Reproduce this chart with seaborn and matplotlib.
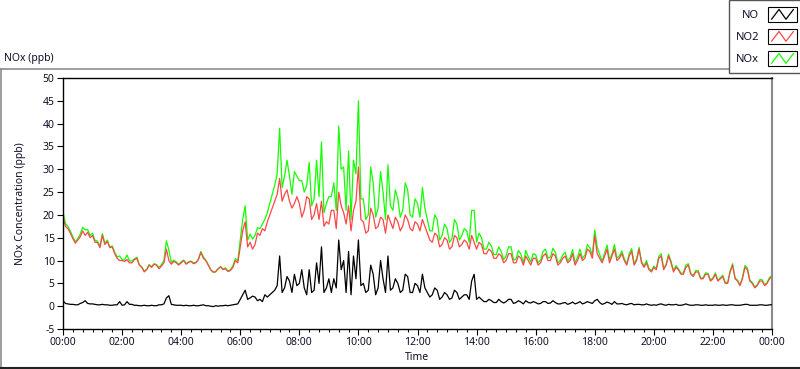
import numpy as np
import pandas as pd
import matplotlib
matplotlib.use("Agg")
import matplotlib.pyplot as plt
import seaborn as sns
from matplotlib.legend_handler import HandlerBase
from matplotlib.lines import Line2D
from matplotlib.patches import Rectangle

# ---------------- data (5-minute samples, ppb) ----------------
sample_minutes = np.arange(0, 24 * 60 + 1, 5)

no_ppb = [
    1.2, 0.6, 0.5, 0.4, 0.4, 0.3, 0.3, 0.6, 0.8, 1.2, 0.6, 0.5,
    0.5, 0.4, 0.3, 0.3, 0.4, 0.3, 0.3, 0.2, 0.2, 0.3, 0.3, 1.0,
    0.2, 0.3, 1.0, 0.4, 0.4, 0.2, 0.2, 0.1, 0.1, 0.2, 0.1, 0.1,
    0.2, 0.1, 0.1, 0.3, 0.3, 0.5, 1.8, 2.3, 0.4, 0.3, 0.2, 0.2,
    0.2, 0.1, 0.2, 0.1, 0.1, 0.2, 0.1, 0.1, 0.2, 0.3, 0.1, 0.1,
    0.0, -0.1, 0.1, 0.0, 0.1, 0.1, 0.2, 0.1, 0.2, 0.3, 0.4, 0.5,
    1.5, 2.5, 3.5, 1.5, 1.8, 2.2, 2.0, 1.2, 1.5, 1.0, 2.5, 2.0,
    2.5, 3.0, 3.5, 4.5, 11.0, 3.0, 4.0, 6.5, 5.5, 3.0, 7.0, 4.5,
    5.0, 8.0, 4.0, 2.5, 8.0, 3.0, 3.5, 9.5, 5.0, 13.0, 3.0, 4.0,
    6.0, 3.0, 6.0, 4.0, 14.5, 8.0, 10.0, 3.0, 12.0, 2.5, 11.0, 6.0,
    14.5, 4.5, 5.0, 3.0, 3.5, 9.0, 7.0, 2.5, 4.0, 10.0, 6.0, 3.0,
    11.0, 3.5, 4.0, 6.0, 5.0, 3.0, 3.5, 7.0, 6.5, 3.0, 3.0, 5.0,
    4.5, 3.0, 7.0, 4.0, 3.0, 2.0, 2.5, 4.0, 3.5, 1.5, 2.0, 3.0,
    2.5, 1.5, 1.8, 3.5, 3.0, 1.5, 2.0, 2.5, 2.5, 1.5, 5.5, 7.0,
    1.5, 2.0, 1.5, 1.0, 1.0, 1.5, 1.2, 0.8, 0.8, 1.5, 1.0, 0.7,
    1.0, 1.5, 1.5, 0.6, 0.8, 1.2, 0.9, 0.5, 1.2, 0.8, 0.7, 1.0,
    0.8, 0.5, 0.6, 1.0, 1.0, 0.6, 0.7, 1.2, 0.8, 0.5, 0.5, 0.7,
    0.8, 0.4, 0.6, 0.9, 0.5, 0.7, 1.0, 0.5, 0.7, 1.0, 0.8, 0.6,
    1.2, 1.5, 0.8, 0.4, 0.6, 0.9, 0.7, 0.4, 1.0, 0.5, 0.5, 0.6,
    0.4, 0.3, 0.5, 0.6, 0.3, 0.4, 0.4, 0.3, 0.3, 0.5, 0.3, 0.2,
    0.3, 0.2, 0.4, 0.5, 0.3, 0.2, 0.4, 0.3, 0.3, 0.4, 0.2, 0.2,
    0.3, 0.5, 0.3, 0.2, 0.2, 0.3, 0.3, 0.2, 0.2, 0.3, 0.2, 0.2,
    0.2, 0.3, 0.2, 0.2, 0.3, 0.2, 0.2, 0.3, 0.3, 0.2, 0.2, 0.2,
    0.3, 0.4, 0.4, 0.2, 0.2, 0.2, 0.2, 0.3, 0.3, 0.2, 0.2, 0.3,
    0.3,
]

no2_ppb = [
    19.5, 17.5, 17.0, 16.0, 14.8, 13.8, 14.5, 15.2, 16.5, 15.5, 16.2, 15.0,
    15.5, 14.0, 14.0, 12.8, 15.5, 13.5, 14.2, 12.8, 13.0, 11.5, 10.5, 10.0,
    10.0, 9.8, 10.2, 9.5, 9.5, 10.2, 10.5, 9.0, 8.5, 7.5, 8.0, 9.0,
    8.5, 9.2, 9.0, 8.2, 8.8, 9.5, 12.5, 10.0, 9.2, 9.8, 9.5, 9.0,
    9.5, 10.0, 9.2, 9.6, 9.8, 9.3, 9.5, 10.2, 11.8, 10.5, 10.0, 9.0,
    8.0, 7.5, 7.5, 8.2, 8.6, 8.0, 8.2, 7.6, 7.8, 8.5, 10.0, 9.5,
    13.0, 16.5, 18.5, 13.0, 14.0, 12.5, 13.5, 16.0, 15.5, 17.0, 16.5, 18.5,
    20.0, 21.5, 23.0, 24.5, 28.0, 23.0, 24.5, 25.5, 23.0, 21.5, 22.5, 24.0,
    22.5, 19.5, 21.0, 24.0, 23.5, 19.0, 20.0, 22.5, 19.0, 23.0, 17.5, 18.5,
    18.0, 21.0, 21.0, 17.0, 25.0, 22.0, 20.5, 18.0, 22.0, 16.5, 21.0, 23.0,
    30.5, 19.0, 18.5, 16.0, 16.5, 21.5, 20.0, 17.0, 17.5, 19.5, 19.0, 16.0,
    20.0, 18.5, 17.0, 19.5, 18.5, 16.5, 17.5, 20.0, 19.0, 17.0, 16.5, 18.5,
    18.0, 16.5, 19.0, 17.5, 16.0, 14.5, 14.0, 16.0, 15.5, 13.0, 13.5, 15.0,
    14.5, 12.5, 13.0, 15.5, 15.0, 13.0, 13.5, 14.5, 14.0, 12.5, 15.5, 14.0,
    12.5, 14.0, 13.5, 11.5, 11.5, 12.5, 12.0, 10.5, 10.5, 11.5, 11.0, 9.5,
    10.0, 11.5, 11.5, 9.5, 9.5, 11.0, 10.5, 9.0, 11.0, 10.0, 9.0, 10.5,
    10.5, 9.0, 9.5, 11.0, 11.5, 10.0, 10.0, 11.5, 11.0, 9.0, 9.5, 10.5,
    11.0, 9.5, 10.0, 11.5, 9.0, 10.0, 11.5, 10.0, 10.5, 12.5, 12.0, 10.5,
    15.5, 11.5, 10.5, 9.5, 11.0, 12.5, 9.5, 11.0, 12.5, 10.0, 10.5, 11.5,
    10.0, 9.0, 11.0, 12.0, 9.0, 10.0, 12.5, 9.5, 8.5, 9.5, 8.0, 7.5,
    8.5, 8.0, 10.5, 11.0, 8.0, 9.0, 11.0, 9.5, 7.5, 8.5, 8.0, 7.0,
    7.0, 8.5, 9.0, 7.0, 6.5, 7.5, 7.5, 6.0, 6.0, 7.0, 7.0, 5.5,
    6.0, 7.0, 5.5, 6.0, 6.5, 5.0, 5.0, 7.5, 9.0, 6.0, 5.5, 4.5,
    6.0, 8.5, 8.0, 5.5, 5.0, 4.0, 4.5, 5.5, 5.5, 4.5, 5.0, 6.0,
    6.5,
]

nox_ppb = [
    20.7, 18.1, 17.5, 16.4, 15.2, 14.1, 14.8, 15.8, 17.3, 16.7, 16.8, 15.5,
    16.0, 14.4, 14.3, 13.1, 15.9, 13.8, 14.5, 13.0, 13.2, 11.8, 10.8, 11.0,
    10.2, 10.1, 11.2, 9.9, 9.9, 10.4, 10.7, 9.1, 8.6, 7.7, 8.1, 9.1,
    8.7, 9.3, 9.1, 8.5, 9.1, 10.0, 14.3, 12.3, 9.6, 10.1, 9.7, 9.2,
    9.7, 10.1, 9.4, 9.7, 9.9, 9.5, 9.6, 10.3, 12.0, 10.8, 10.1, 9.1,
    8.0, 7.4, 7.6, 8.2, 8.7, 8.1, 8.4, 7.7, 8.0, 8.8, 10.4, 10.0,
    14.5, 19.0, 22.0, 14.5, 15.8, 14.7, 15.5, 17.2, 17.0, 18.0, 19.0, 20.5,
    22.5, 24.5, 26.5, 29.0, 39.0, 26.0, 28.5, 32.0, 28.5, 24.5, 29.5, 28.5,
    27.5, 27.5, 25.0, 26.5, 31.5, 22.0, 23.5, 32.0, 24.0, 36.0, 20.5, 22.5,
    24.0, 24.0, 27.0, 21.0, 39.5, 30.0, 30.5, 21.0, 34.0, 19.0, 32.0, 29.0,
    45.0, 23.5, 23.5, 19.0, 20.0, 30.5, 27.0, 19.5, 21.5, 29.5, 25.0, 19.0,
    31.0, 22.0, 21.0, 25.5, 23.5, 19.5, 21.0, 27.0, 25.5, 20.0, 19.5, 23.5,
    22.5, 19.5, 26.0, 21.5, 19.0, 16.5, 16.5, 20.0, 19.0, 14.5, 15.5, 18.0,
    17.0, 14.0, 14.8, 19.0, 18.0, 14.5, 15.5, 17.0, 16.5, 14.0, 21.0, 21.0,
    14.0, 16.0, 15.0, 12.5, 12.5, 14.0, 13.2, 11.3, 11.3, 13.0, 12.0, 10.2,
    11.0, 13.0, 13.0, 10.1, 10.3, 12.2, 11.4, 9.5, 12.2, 10.8, 9.7, 11.5,
    11.3, 9.5, 10.1, 12.0, 12.5, 10.6, 10.7, 12.7, 11.8, 9.5, 10.0, 11.2,
    11.8, 9.9, 10.6, 12.4, 9.5, 10.7, 12.5, 10.5, 11.2, 13.5, 12.8, 11.1,
    16.7, 13.0, 11.3, 9.9, 11.6, 13.4, 10.2, 11.4, 13.5, 10.5, 11.0, 12.1,
    10.4, 9.3, 11.5, 12.6, 9.3, 10.4, 12.9, 9.8, 8.8, 10.0, 8.3, 7.7,
    8.8, 8.2, 10.9, 11.5, 8.3, 9.2, 11.4, 9.8, 7.8, 8.9, 8.2, 7.2,
    7.3, 9.0, 9.3, 7.2, 6.7, 7.8, 7.8, 6.2, 6.2, 7.3, 7.2, 5.7,
    6.2, 7.3, 5.7, 6.2, 6.8, 5.2, 5.2, 7.8, 9.3, 6.2, 5.7, 4.7,
    6.3, 8.9, 8.4, 5.7, 5.2, 4.2, 4.7, 5.8, 5.8, 4.7, 5.2, 6.3,
    6.8,
]

series_names = ["NO", "NO2", "NOx"]
series_colors = {"NO": "#000000", "NO2": "#FF4646", "NOx": "#14FF00"}
x_tick_hours = [0, 2, 4, 6, 8, 10, 12, 14, 16, 18, 20, 22, 24]
x_tick_labels = ["00:00", "02:00", "04:00", "06:00", "08:00", "10:00", "12:00",
                 "14:00", "16:00", "18:00", "20:00", "22:00", "00:00"]
y_ticks = [-5, 0, 5, 10, 15, 20, 25, 30, 35, 40, 45, 50]

df = pd.DataFrame({
    "hour": np.concatenate([sample_minutes / 60.0] * 3),
    "value": np.concatenate([no_ppb, no2_ppb, nox_ppb]),
    "series": np.repeat(series_names, len(sample_minutes)),
})

# ---------------- style ----------------
sns.set_theme(style="white")
plt.rcParams["font.family"] = ["Noto Sans", "DejaVu Sans"]
FS = 7.5
TXT = "#10102a"

W, H = 800, 369
fig = plt.figure(figsize=(W / 100, H / 100), dpi=100)
fig.patch.set_facecolor("white")

def fx(px):
    return px / W

def fy(py):
    return 1 - py / H

ax_l, ax_r, ax_t, ax_b = 63, 772, 78, 329
ax = fig.add_axes([fx(ax_l), fy(ax_b), fx(ax_r - ax_l), (ax_b - ax_t) / H])

draw_order = [("NOx", 1), ("NO2", 2), ("NO", 3)]
for name, z in draw_order:
    sub = df[df["series"] == name]
    sns.lineplot(data=sub, x="hour", y="value", ax=ax, color=series_colors[name],
                 linewidth=0.9, zorder=z, legend=False, estimator=None)

ax.set_xlim(0, 24)
ax.set_ylim(-5, 50)
ax.set_xticks(x_tick_hours)
ax.set_xticklabels(x_tick_labels)
ax.set_xticks(np.arange(0, 24.01, 1 / 3), minor=True)
ax.set_yticks(y_ticks)
ax.set_yticklabels([str(v) for v in y_ticks])
ax.tick_params(axis="both", which="major", direction="out", length=4, width=0.8,
               color="black", labelsize=FS, labelcolor=TXT, pad=2,
               bottom=True, left=True)
ax.tick_params(axis="x", which="minor", direction="out", length=2.5, width=0.8,
               color="black", bottom=True)
ax.set_xlabel("Time", fontsize=FS, color=TXT)
ax.set_ylabel("NOx Concentration (ppb)", fontsize=FS, color=TXT)
ax.xaxis.set_label_coords((417 - ax_l) / (ax_r - ax_l), -(352 - ax_b) / (ax_b - ax_t))
ax.xaxis.label.set_va("top")
ax.yaxis.set_label_coords(-(63 - 26) / (ax_r - ax_l), 0.5)
for side in ["left", "top", "bottom"]:
    ax.spines[side].set_color("black")
    ax.spines[side].set_linewidth(1.0)
ax.spines["right"].set_color("#8a8a8a")
ax.spines["right"].set_linewidth(1.5)
ax.grid(False)

# outer frame of the graph panel
fig.add_artist(Line2D([fx(0.5), fx(0.5)], [fy(69), fy(368)], transform=fig.transFigure,
                      color="#8c8c8c", lw=1.2))
fig.add_artist(Line2D([fx(0), fx(731)], [fy(69), fy(69)], transform=fig.transFigure,
                      color="#8c8c8c", lw=1.2))
fig.add_artist(Line2D([fx(0), fx(800)], [fy(367.8), fy(367.8)], transform=fig.transFigure,
                      color="#222222", lw=1.5))

fig.text(fx(4), fy(58), "NOx (ppb)", fontsize=FS, color=TXT, ha="left", va="center")


# legend with LabVIEW-like zig-zag glyph boxes
class ZigZagHandler(HandlerBase):
    def create_artists(self, legend, orig_handle, xdescent, ydescent, width, height,
                       fontsize, trans):
        x0, y0 = -xdescent, -ydescent
        rect = Rectangle((x0, y0), width, height, facecolor="white", edgecolor="black",
                         linewidth=0.8, transform=trans)
        xs = x0 + np.array([0.12, 0.38, 0.62, 0.88]) * width
        ys = y0 + np.array([0.18, 0.82, 0.18, 0.82]) * height
        line = Line2D(xs, ys, color=orig_handle.get_color(), linewidth=0.9, transform=trans)
        return [rect, line]


handles = [Line2D([], [], color=series_colors[n]) for n in series_names]
leg = fig.legend(handles, series_names, loc="upper left",
                 bbox_to_anchor=(fx(729), 1.0), bbox_transform=fig.transFigure,
                 handler_map={Line2D: ZigZagHandler()}, markerfirst=False,
                 fontsize=8, handlelength=2.6, handleheight=1.75,
                 labelspacing=0.6, handletextpad=0.8, borderpad=0.6,
                 borderaxespad=0.0, fancybox=False, framealpha=1.0,
                 edgecolor="#555555", facecolor="white")
leg.get_frame().set_linewidth(1.0)
for t in leg.get_texts():
    t.set_color(TXT)

fig.savefig("out.png", dpi=100)
